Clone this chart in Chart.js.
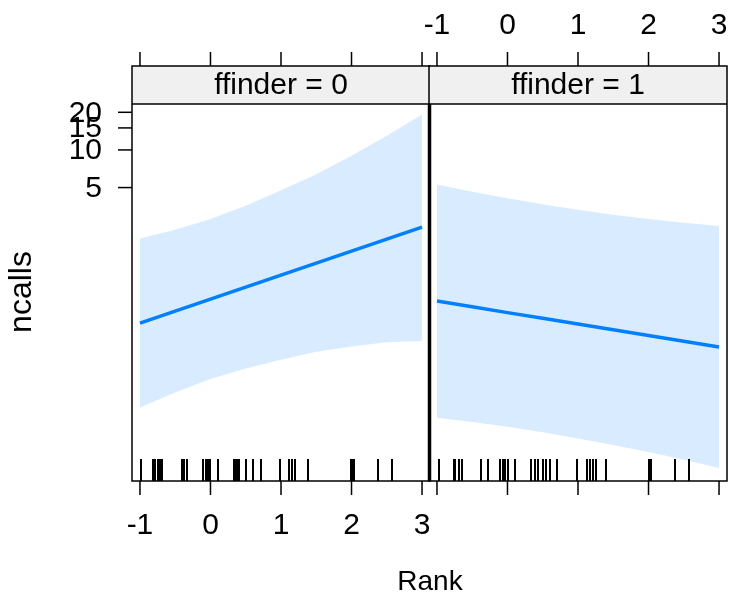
<!DOCTYPE html>
<html>
<head>
<meta charset="utf-8">
<script src="https://cdn.jsdelivr.net/npm/chart.js@4"></script>
<style>
  body { margin: 0; background: #fff; }
  #wrap { position: relative; width: 731px; height: 601px; }
  #wrap canvas { position: absolute; left: 0; top: 0; }
</style>
</head>
<body>
<div id="wrap">
  <canvas id="panel0" width="731" height="601"></canvas>
  <canvas id="panel1" width="731" height="601"></canvas>
</div>
<script>
// effect of Rank on ncalls, one panel per ffinder level (log link, 95% band)
const rank = [-1, -0.5, 0, 0.5, 1, 1.5, 2, 2.5, 3];

const fit0   = [0.412, 0.514, 0.641, 0.800, 0.998, 1.245, 1.553, 1.937, 2.416];
const upper0 = [1.96, 2.30, 2.80, 3.57, 4.75, 6.39, 9.00, 12.96, 19.2];
const lower0 = [0.087, 0.115, 0.147, 0.179, 0.210, 0.243, 0.268, 0.290, 0.296];

const fit1   = [0.618, 0.556, 0.500, 0.450, 0.405, 0.364, 0.328, 0.295, 0.265];
const upper1 = [5.29, 4.63, 4.11, 3.67, 3.32, 3.03, 2.80, 2.61, 2.46];
const lower1 = [0.0722, 0.0668, 0.0610, 0.0552, 0.0493, 0.0437, 0.0383, 0.0333, 0.0286];

// observed Rank values (rug)
const rug0 = [-0.98, -0.81, -0.78, -0.75, -0.72, -0.69, -0.41, -0.38, -0.33, -0.10, -0.07, -0.04, -0.01,
              0.11, 0.33, 0.36, 0.38, 0.41, 0.50, 0.61, 0.71, 0.98, 1.12, 1.15, 1.20, 1.38,
              1.99, 2.02, 2.04, 2.37, 2.57];
const rug1 = [-0.97, -0.76, -0.74, -0.69, -0.65, -0.38, -0.28, -0.10, -0.06, -0.03, 0.01, 0.11,
              0.34, 0.39, 0.43, 0.50, 0.54, 0.61, 0.70, 0.99, 1.13, 1.17, 1.21, 1.25, 1.39,
              2.01, 2.04, 2.38, 2.57];

const xTicks = [-1, 0, 1, 2, 3];
const yTicks = [5, 10, 15, 20];
const stripLabels = ['ffinder = 0', 'ffinder = 1'];

const FONT = '"Liberation Sans", Arial, sans-serif';
const LINE_COL = '#0080ff';
const BAND_COL = 'rgba(0, 128, 255, 0.15)';

const pts = vals => vals.map((v, i) => ({ x: rank[i], y: v }));

const latticePanel = {
  id: 'latticePanel',
  beforeDatasetsDraw(chart, args, o) {
    const { ctx, chartArea: a } = chart;
    ctx.save();
    ctx.fillStyle = '#f0f0f0';
    ctx.fillRect(a.left, a.top - o.stripHeight, a.right - a.left, o.stripHeight);
    ctx.restore();
  },
  afterDatasetsDraw(chart, args, o) {
    const { ctx, chartArea: a, scales: { x } } = chart;
    ctx.save();
    ctx.strokeStyle = '#000';
    ctx.lineWidth = 2;
    o.rug.forEach(r => {
      const px = Math.round(x.getPixelForValue(r));
      ctx.beginPath();
      ctx.moveTo(px, a.bottom - 22);
      ctx.lineTo(px, a.bottom);
      ctx.stroke();
    });
    ctx.restore();
  },
  afterDraw(chart, args, o) {
    const { ctx, chartArea: a, scales: { x, y } } = chart;
    const stripTop = a.top - o.stripHeight;
    ctx.save();
    ctx.strokeStyle = '#000';
    ctx.fillStyle = '#000';
    ctx.lineWidth = 1.5;

    // panel + strip frame
    ctx.strokeRect(a.left, stripTop, a.right - a.left, a.bottom - stripTop);
    ctx.beginPath();
    ctx.moveTo(a.left, a.top);
    ctx.lineTo(a.right, a.top);
    ctx.stroke();

    ctx.font = '30px ' + FONT;
    ctx.textAlign = 'center';
    ctx.textBaseline = 'middle';
    ctx.fillText(o.strip, (a.left + a.right) / 2, stripTop + o.stripHeight / 2 + 1);

    // x ticks, top and bottom
    ctx.font = '30px ' + FONT;
    xTicks.forEach(t => {
      const px = x.getPixelForValue(t);
      ctx.beginPath();
      ctx.moveTo(px, a.bottom);
      ctx.lineTo(px, a.bottom + 14);
      ctx.moveTo(px, stripTop);
      ctx.lineTo(px, stripTop - 14);
      ctx.stroke();
      if (o.bottomLabels) ctx.fillText(String(t), px, a.bottom + 45);
      if (o.topLabels) ctx.fillText(String(t), px, stripTop - 40);
    });

    // y ticks on the left
    if (o.leftAxis) {
      ctx.textAlign = 'right';
      yTicks.forEach(t => {
        const py = y.getPixelForValue(t);
        ctx.beginPath();
        ctx.moveTo(a.left - 14, py);
        ctx.lineTo(a.left, py);
        ctx.stroke();
        ctx.fillText(String(t), a.left - 30, py + 1);
      });
    }

    if (o.divider) {
      ctx.lineWidth = 3.5;
      ctx.beginPath();
      ctx.moveTo(a.left + 0.5, a.top);
      ctx.lineTo(a.left + 0.5, a.bottom);
      ctx.stroke();
    }

    if (o.titles) {
      ctx.textAlign = 'center';
      ctx.font = '28px ' + FONT;
      ctx.fillText('Rank', 430, 582);
      ctx.translate(22, 292);
      ctx.rotate(-Math.PI / 2);
      ctx.font = '32px ' + FONT;
      ctx.fillText('ncalls', 0, 0);
    }
    ctx.restore();
  }
};

function makePanel(id, fit, upper, lower, padding, panelOpts) {
  return new Chart(document.getElementById(id), {
    type: 'line',
    data: {
      datasets: [
        { data: pts(upper), borderWidth: 0, pointRadius: 0, fill: '+1', backgroundColor: BAND_COL },
        { data: pts(lower), borderWidth: 0, pointRadius: 0, fill: false },
        { data: pts(fit), borderColor: LINE_COL, borderWidth: 3.5, pointRadius: 0, fill: false, tension: 0 }
      ]
    },
    options: {
      responsive: false,
      animation: false,
      events: [],
      layout: { padding },
      scales: {
        x: { type: 'linear', min: -1.113, max: 3.113, display: false },
        y: { type: 'logarithmic', min: 0.0225, max: 23.3, display: false }
      },
      plugins: {
        legend: { display: false },
        tooltip: { enabled: false },
        latticePanel: Object.assign({ stripHeight: 38 }, panelOpts)
      }
    },
    plugins: [latticePanel]
  });
}

makePanel('panel0', fit0, upper0, lower0,
  { left: 132, right: 301, top: 104, bottom: 120 },
  { strip: stripLabels[0], rug: rug0, leftAxis: true, bottomLabels: true, topLabels: false, titles: true });

makePanel('panel1', fit1, upper1, lower1,
  { left: 429, right: 4, top: 104, bottom: 120 },
  { strip: stripLabels[1], rug: rug1, leftAxis: false, bottomLabels: false, topLabels: true, divider: true });
</script>
</body>
</html>
